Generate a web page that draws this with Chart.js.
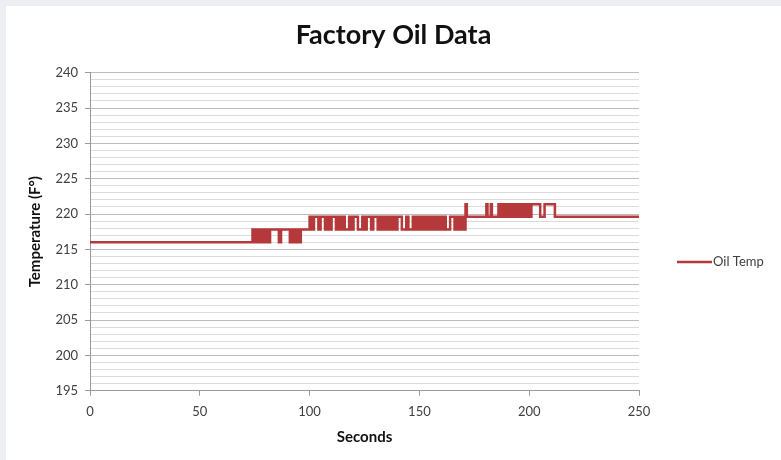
<!DOCTYPE html>
<html lang="en">
<head>
  <meta charset="UTF-8" />
  <title>Factory Oil Data</title>
  <script src="https://cdn.jsdelivr.net/npm/chart.js"></script>
  <style>
    body { margin: 0; background: #eceef2; }
    .frame {
      position: absolute;
      left: 6px;
      top: 6px;
      width: 775px;
      height: 454px;
      background: #fff;
    }
  </style>
</head>
<body>
  <div class="frame"><canvas id="oilChart" width="775" height="454"></canvas></div>

  <script>
    // readings: each value holds from its second until the next one
    const seconds = [
      0, 74, 75, 76, 77, 78, 79, 80, 81, 82, 86, 87, 91, 92, 93, 94, 95, 96,
      100, 101, 102, 104, 105, 107, 108, 109, 110, 112, 113, 114, 115, 116, 118, 119,
      120, 122, 124, 125, 126, 128, 129, 131, 132, 133, 134, 135, 136, 137, 138, 139,
      140, 142, 144, 145, 147, 148, 149, 150, 151, 152, 153, 154, 155, 156, 157, 158,
      159, 160, 161, 162, 164, 166, 167, 168, 169, 170, 171, 171.6,
      180.5, 181, 182.5, 183, 186, 187, 188, 189, 190, 191, 192, 193, 194, 195,
      196, 197, 198, 199, 200, 200.5, 201, 205, 207, 211.7, 250
    ];
    const oilTemp = [
      216, 217.8, 216, 217.8, 216, 217.8, 216, 217.8, 216, 217.8, 216, 217.8, 216, 217.8, 216, 217.8, 216, 217.8,
      219.6, 217.8, 219.6, 217.8, 219.6, 217.8, 219.6, 217.8, 219.6, 217.8, 219.6, 217.8, 219.6, 217.8, 219.6, 217.8,
      219.6, 217.8, 219.6, 217.8, 219.6, 217.8, 219.6, 217.8, 219.6, 217.8, 219.6, 217.8, 219.6, 217.8, 219.6, 217.8,
      219.6, 217.8, 219.6, 217.8, 219.6, 217.8, 219.6, 217.8, 219.6, 217.8, 219.6, 217.8, 219.6, 217.8, 219.6, 217.8,
      219.6, 217.8, 219.6, 217.8, 219.6, 217.8, 219.6, 217.8, 219.6, 217.8, 221.4, 219.6,
      221.4, 219.6, 221.4, 219.6, 221.4, 219.6, 221.4, 219.6, 221.4, 219.6, 221.4, 219.6, 221.4, 219.6,
      221.4, 219.6, 221.4, 219.6, 221.4, 219.6, 221.4, 219.6, 221.4, 219.6, 219.6
    ];
    const yTicks = { min: 195, max: 240, major: 5 };
    const xTicks = { min: 0, max: 250, step: 50 };

    const lineColor = '#b5383a';
    const textColor = '#404040';
    const legendWidth = 142;

    // legend sits in its own box right of the plot, so the title stays centred on the page
    const sideLegend = {
      id: 'sideLegend',
      beforeInit(chart) {
        const box = {
          position: 'right',
          weight: 0,
          fullSize: false,
          options: {},
          left: 0, top: 0, right: 0, bottom: 0, width: 0, height: 0,
          isHorizontal() { return false; },
          update(maxWidth, maxHeight) {
            this.width = legendWidth;
            this.height = maxHeight;
          },
          draw() {
            const ctx = chart.ctx;
            const ds = chart.data.datasets[0];
            const x = this.left + 38;
            const y = this.top + 189.3;
            ctx.save();
            ctx.strokeStyle = ds.borderColor;
            ctx.lineWidth = 2.5;
            ctx.beginPath();
            ctx.moveTo(x, y);
            ctx.lineTo(x + 35, y);
            ctx.stroke();
            ctx.fillStyle = textColor;
            ctx.font = '13px Lato';
            ctx.textBaseline = 'middle';
            ctx.fillText(ds.label, x + 36, y);
            ctx.restore();
          }
        };
        Chart.layouts.addBox(chart, box);
      }
    };

    new Chart(document.getElementById('oilChart'), {
      type: 'line',
      data: {
        datasets: [{
          label: 'Oil Temp',
          data: seconds.map((s, i) => ({ x: s, y: oilTemp[i] })),
          borderColor: lineColor,
          backgroundColor: lineColor,
          borderWidth: 2.5,
          pointRadius: 0,
          stepped: true,
          fill: false
        }]
      },
      options: {
        responsive: false,
        animation: false,
        layout: { padding: 0 },
        plugins: {
          legend: { display: false },
          tooltip: { enabled: false },
          title: {
            display: true,
            text: 'Factory Oil Data',
            color: '#111',
            font: { family: 'Lato', size: 27, weight: 'bold' },
            padding: { top: 12.8, bottom: 21.5 }
          }
        },
        scales: {
          x: {
            type: 'linear',
            min: xTicks.min,
            max: xTicks.max,
            afterFit(scale) { scale.height = 69.3; },
            border: { color: '#9a9a9a' },
            grid: { drawOnChartArea: false, tickLength: 5, tickColor: '#9a9a9a' },
            ticks: {
              stepSize: xTicks.step,
              color: textColor,
              padding: 8.5,
              font: { family: 'Lato', size: 13 }
            },
            title: {
              display: true,
              text: 'Seconds',
              color: '#111',
              font: { family: 'Lato', size: 15, weight: 'bold' },
              padding: { top: 0, bottom: 14 }
            }
          },
          y: {
            min: yTicks.min,
            max: yTicks.max,
            afterFit(scale) { scale.width = 84; },
            border: { color: '#9a9a9a' },
            grid: {
              tickLength: 5,
              color: c => (c.tick && c.tick.value % yTicks.major === 0) ? '#bcbcbc' : '#dcdcdc',
              tickColor: c => (c.tick && c.tick.value % yTicks.major === 0) ? '#9a9a9a' : 'rgba(0,0,0,0)'
            },
            ticks: {
              stepSize: 1,
              autoSkip: false,
              color: textColor,
              padding: 7,
              font: { family: 'Lato', size: 13 },
              callback: v => (v % yTicks.major === 0) ? v : ''
            },
            title: {
              display: true,
              text: 'Temperature (F°)',
              color: '#111',
              font: { family: 'Lato', size: 15, weight: 'bold' },
              padding: { top: 20, bottom: 0 }
            }
          }
        }
      },
      plugins: [sideLegend]
    });
  </script>
</body>
</html>
